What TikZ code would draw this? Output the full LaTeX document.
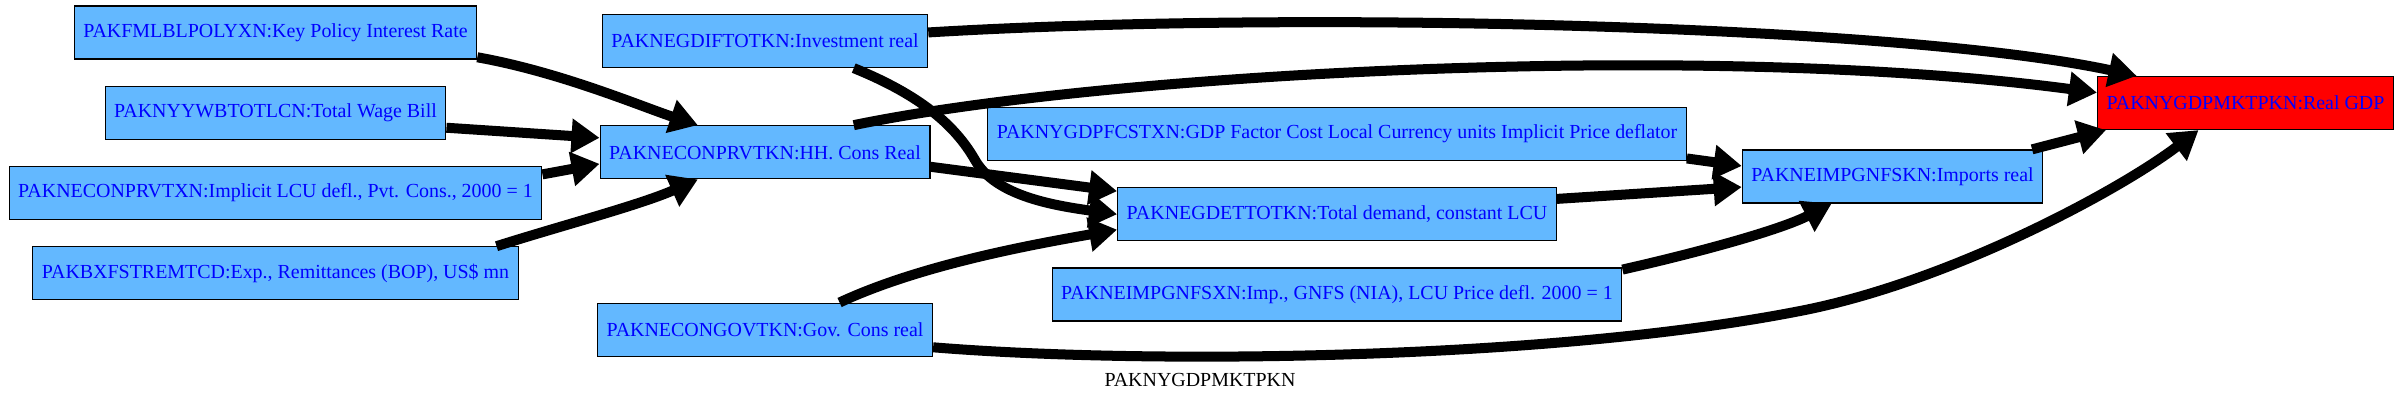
\documentclass[tikz,border=0pt]{standalone}
\usepackage{fontspec}
\setmainfont{Liberation Serif}
\usetikzlibrary{arrows.meta,positioning}
\definecolor{sky}{HTML}{63B8FF}
\definecolor{ink}{HTML}{0000FF}
\definecolor{hot}{HTML}{FF0000}

\begin{document}
\begin{tikzpicture}[
  x=0.01cm,y=-0.01cm,
  node distance=2.6mm,
  box/.style={draw=black,line width=0.35pt,fill=sky,text=ink,minimum height=5.3mm,inner xsep=0.9mm,inner ysep=0.5mm,font=\fontsize{5.67}{6.8}\selectfont},
  root/.style={box,fill=hot},
  arr/.style={-{Triangle[length=2.8mm,width=3.3mm]},line width=1mm,draw=black}
]
\useasboundingbox (0,0) rectangle (2400,403);
\node[box] (keypolicy) at (275.5,32.5) {PAKFMLBLPOLYXN:Key Policy Interest Rate};
\node[box,below=of keypolicy] (wagebill) {PAKNYYWBTOTLCN:Total Wage Bill};
\node[box,below=of wagebill] (implicit) {PAKNECONPRVTXN:Implicit LCU defl., Pvt. Cons., 2000 = 1};
\node[box,below=of implicit] (remit) {PAKBXFSTREMTCD:Exp., Remittances (BOP), US\$ mn};
\node[box] (invest) at (765,41) {PAKNEGDIFTOTKN:Investment real};
\node[box,below=5.7mm of invest] (hhcons) {PAKNECONPRVTKN:HH. Cons Real};
\node[box,below=12.3mm of hhcons] (govcons) {PAKNECONGOVTKN:Gov. Cons real};
\node[box] (gdpfc) at (1337,134) {PAKNYGDPFCSTXN:GDP Factor Cost Local Currency units Implicit Price deflator};
\node[box,below=of gdpfc] (totdem) {PAKNEGDETTOTKN:Total demand, constant LCU};
\node[box,below=of totdem] (impnia) {PAKNEIMPGNFSXN:Imp., GNFS (NIA), LCU Price defl. 2000 = 1};
\node[box] (imports) at (1892.5,176.5) {PAKNEIMPGNFSKN:Imports real};
\node[root] (realgdp) at (2245.5,103) {PAKNYGDPMKTPKN:Real GDP};
\node[font=\fontsize{5.67}{6.8}\selectfont] (caption) at (1200,380) {PAKNYGDPMKTPKN};
\draw[arr] (keypolicy.-7) .. controls (560,72) and (640,106) .. (hhcons.158);
\draw[arr] (wagebill.-5) -- (hhcons.175);
\draw[arr] (implicit.4) -- (hhcons.184);
\draw[arr] (remit.7) .. controls (560,226) and (640,205) .. (hhcons.202);
\draw[arr] (invest.3.5) .. controls (1300,10) and (1900,25) .. (realgdp.166);
\draw[arr] (invest.-17) .. controls (920,95) and (955,125) .. (975,160) .. controls (995,195) and (1050,205) .. (totdem.west);
\draw[arr] (hhcons.17) .. controls (1100,74) and (1700,40) .. (realgdp.176);
\draw[arr] (hhcons.-5) -- (totdem.174);
\draw[arr] (govcons.20) .. controls (920,265) and (1030,245) .. (totdem.184);
\draw[arr] (govcons.-6) .. controls (1150,365) and (1550,360) .. (1800,311) .. controls (1950,282) and (2120,190) .. (realgdp.210);
\draw[arr] (gdpfc.-4) -- (imports.176);
\draw[arr] (totdem.4) -- (imports.184);
\draw[arr] (impnia.5) .. controls (1700,252) and (1780,230) .. (imports.204);
\draw[arr] (imports.11.5) -- (realgdp.191);
\end{tikzpicture}
\end{document}
